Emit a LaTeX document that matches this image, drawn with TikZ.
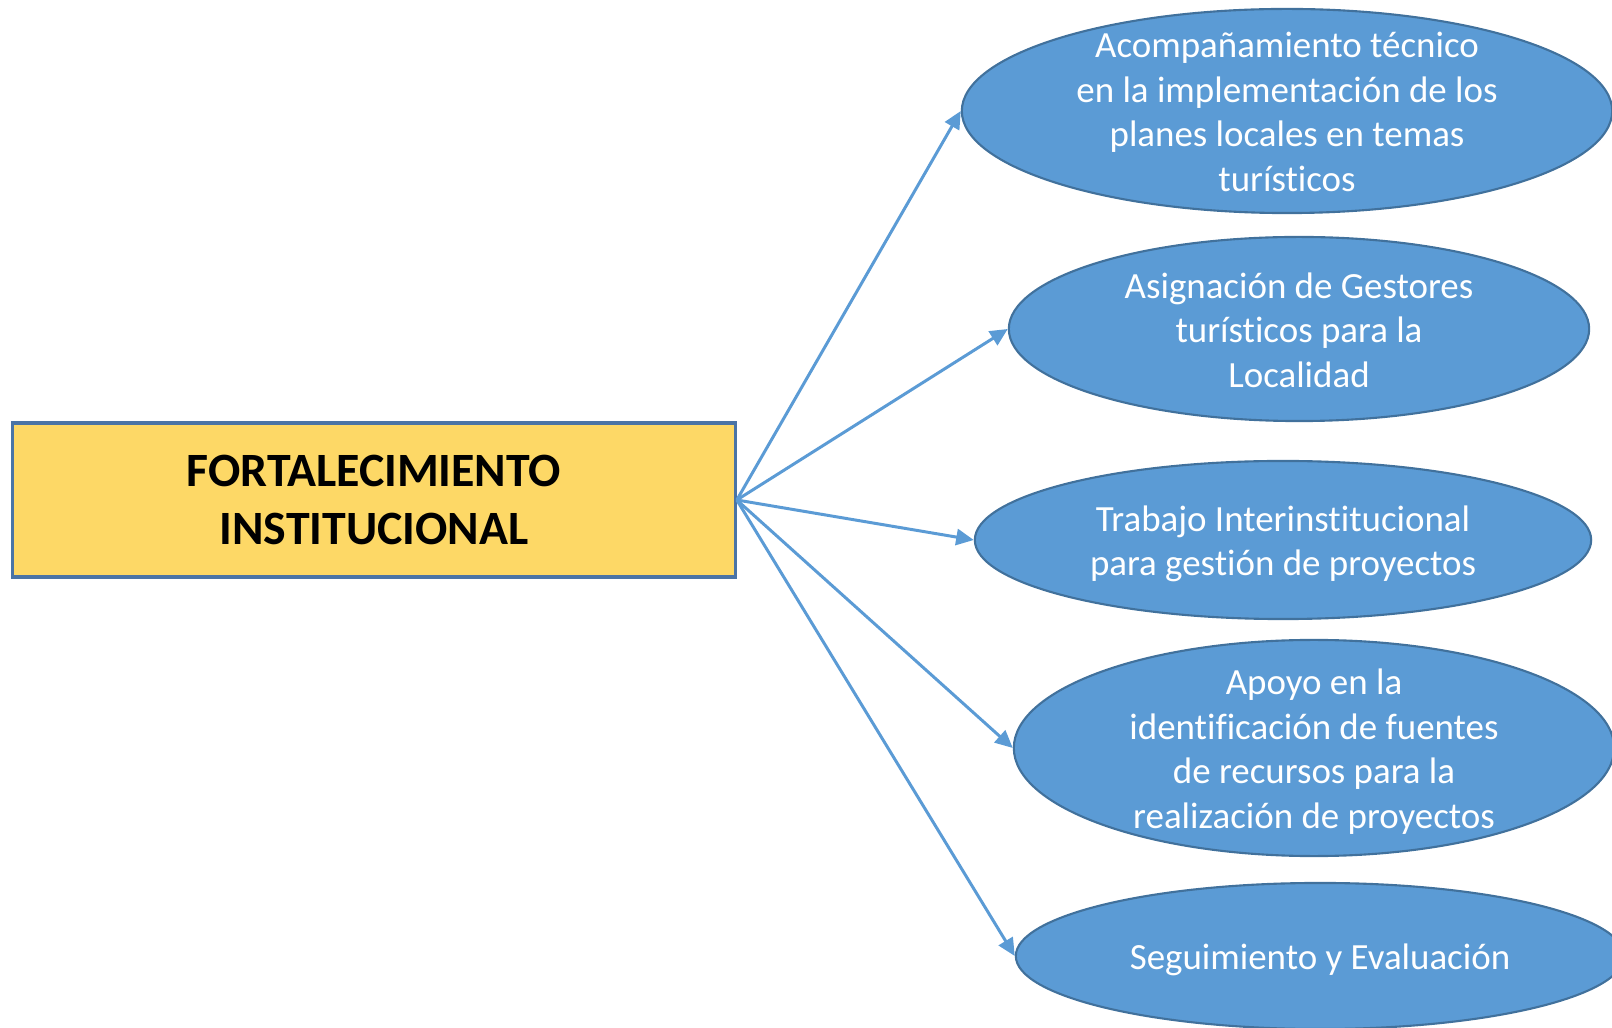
\documentclass[tikz,border=0pt]{standalone}
\usepackage{fontspec}
\setmainfont[Ligatures=NoCommon]{Carlito}
\usetikzlibrary{shapes.geometric,arrows.meta}

\definecolor{ovalfill}{HTML}{5B9BD5}
\definecolor{ovaldraw}{HTML}{41719C}
\definecolor{boxfill}{HTML}{FDD866}
\definecolor{boxdraw}{HTML}{4A74A6}
\definecolor{flecha}{HTML}{5B9BD5}

% text of an oval, without height, so that the oval keeps its size
\newcommand{\ovaltext}[1]{\smash{\raisebox{-4.1pt}{\begin{tabular}{@{}c@{}}#1\end{tabular}}}}

\begin{document}
\begin{tikzpicture}[x=0.01cm,y=-0.01cm,
    font=\fontsize{10.5}{12.66}\selectfont,
    accion/.style={ellipse,draw=ovaldraw,fill=ovalfill,line width=0.6pt,
                   text=white,inner sep=0pt},
    eje/.style={rectangle,draw=boxdraw,fill=boxfill,line width=0.9pt,
                align=center,inner sep=0pt,font=\fontsize{13.6}{16.5}\selectfont\bfseries},
    flechas/.style={color=flecha,line width=0.85pt,-{Triangle[length=5pt,width=4.6pt]}}]
    \useasboundingbox (0,0) rectangle (1612,1028);
    \clip (0,0) rectangle (1612,1028);

    \node[eje,minimum width=7.22cm,minimum height=1.54cm] (fortalecimiento) at (374,500)
        {FORTALECIMIENTO\\INSTITUCIONAL};

    \node[accion,minimum width=6.5cm,minimum height=2.04cm] (acompanamiento) at (1287,111)
        {\ovaltext{Acompañamiento técnico\\en la implementación de los\\planes locales en temas\\turísticos}};
    \node[accion,minimum width=5.8cm,minimum height=1.84cm] (gestores) at (1299,329)
        {\ovaltext{Asignación de Gestores\\turísticos para la\\Localidad}};
    \node[accion,minimum width=6.16cm,minimum height=1.58cm] (interinst) at (1283,540)
        {\ovaltext{Trabajo Interinstitucional\\para gestión de proyectos}};
    \node[accion,minimum width=6.0cm,minimum height=2.16cm] (fuentes) at (1314,748)
        {\ovaltext{Apoyo en la\\identificación de fuentes\\de recursos para la\\realización de proyectos}};
    \node[accion,minimum width=6.08cm,minimum height=1.46cm] (seguimiento) at (1320,956)
        {\ovaltext{Seguimiento y Evaluación}};

    \path (fortalecimiento.east) edge[flechas] (acompanamiento.west)
                                 edge[flechas] (gestores.west)
                                 edge[flechas] (interinst.west)
                                 edge[flechas] (fuentes.west)
                                 edge[flechas] (seguimiento.west);
\end{tikzpicture}
\end{document}
